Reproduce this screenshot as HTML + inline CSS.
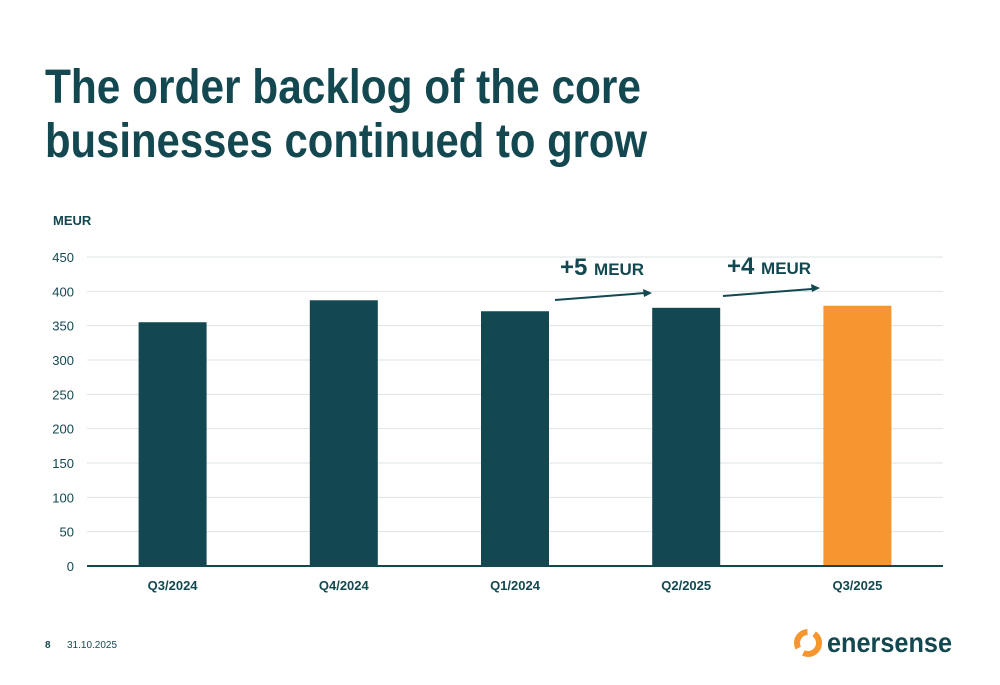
<!DOCTYPE html>
<html><head><meta charset="utf-8"><style>
body{margin:0;background:#fff;font-family:"Liberation Sans",sans-serif}
svg{display:block}
</style></head><body>
<svg width="1000" height="685" viewBox="0 0 1000 685" xmlns="http://www.w3.org/2000/svg" font-family="Liberation Sans, sans-serif">
<g fill="#134851" font-weight="bold" font-size="48">
<text x="45" y="103" textLength="596" lengthAdjust="spacingAndGlyphs">The order backlog of the core</text>
<text x="45" y="157" textLength="602" lengthAdjust="spacingAndGlyphs">businesses continued to grow</text>
</g>
<text x="53" y="225" font-size="13" font-weight="bold" fill="#134851">MEUR</text>
<g id="grid"></g>
<g id="bars"></g>
<g fill="#134851" font-weight="bold">
<text x="560" y="275" font-size="24">+5 <tspan font-size="17">MEUR</tspan></text>
<text x="727" y="274" font-size="24">+4 <tspan font-size="17">MEUR</tspan></text>
<line x1="555" y1="300" x2="645" y2="293" stroke="#134851" stroke-width="2"/>
<polygon points="652,293 643,289 644,297"/>
<line x1="723" y1="296" x2="812" y2="289" stroke="#134851" stroke-width="2"/>
<polygon points="820,288 811,284 812,292"/>
</g>
<text x="45" y="648" font-size="10" font-weight="bold" fill="#134851">8</text>
<text x="67" y="648" font-size="10" fill="#134851">31.10.2025</text>
<g>
<circle cx="808" cy="643" r="11" fill="none" stroke="#F7962E" stroke-width="6" stroke-dasharray="22 7"/>
<text x="827" y="652" font-size="28" font-weight="bold" fill="#134851" textLength="125" lengthAdjust="spacingAndGlyphs">enersense</text>
</g>
</svg>
<script>
const categories=["Q3/2024","Q4/2024","Q1/2024","Q2/2025","Q3/2025"];
const values=[355,387,371,376,379];
const highlight=[false,false,false,false,true];
const ticks=[0,50,100,150,200,250,300,350,400,450];
const NS="http://www.w3.org/2000/svg";
const x0=87,x1=943,y0=566,yTop=257,maxV=450;
const y=v=>y0-(y0-yTop)*v/maxV;
const band=(x1-x0)/categories.length;
const bx=i=>x0+band*i+band/2;
function mk(t,a,p){const e=document.createElementNS(NS,t);for(const k in a)e.setAttribute(k,a[k]);p.appendChild(e);return e;}
const g=document.getElementById('grid'),b=document.getElementById('bars');
ticks.forEach(t=>{
 if(t>0){const l=mk('line',{x1:x0,x2:x1,y1:y(t),y2:y(t),stroke:'#dde3e4','stroke-width':1},g);
 
 }
 const tx=mk('text',{x:74,y:y(t)+5,'text-anchor':'end','font-size':13,fill:'#134851'},g);
 tx.textContent=t;
 
 
});
categories.forEach((c,i)=>{
 const r=mk('rect',{x:bx(i)-34,y:y(values[i]),width:68,height:y0-y(values[i]),fill:highlight[i]?'#F7962E':'#134851'},b);
 
 
 const t=mk('text',{x:bx(i),y:590,'text-anchor':'middle','font-size':13,'font-weight':'bold',fill:'#134851'},b);
 t.textContent=c;
 
 
});
const ax=mk('line',{x1:x0,x2:x1,y1:y0,y2:y0,stroke:'#134851','stroke-width':2},b);


</script>
</body></html>
